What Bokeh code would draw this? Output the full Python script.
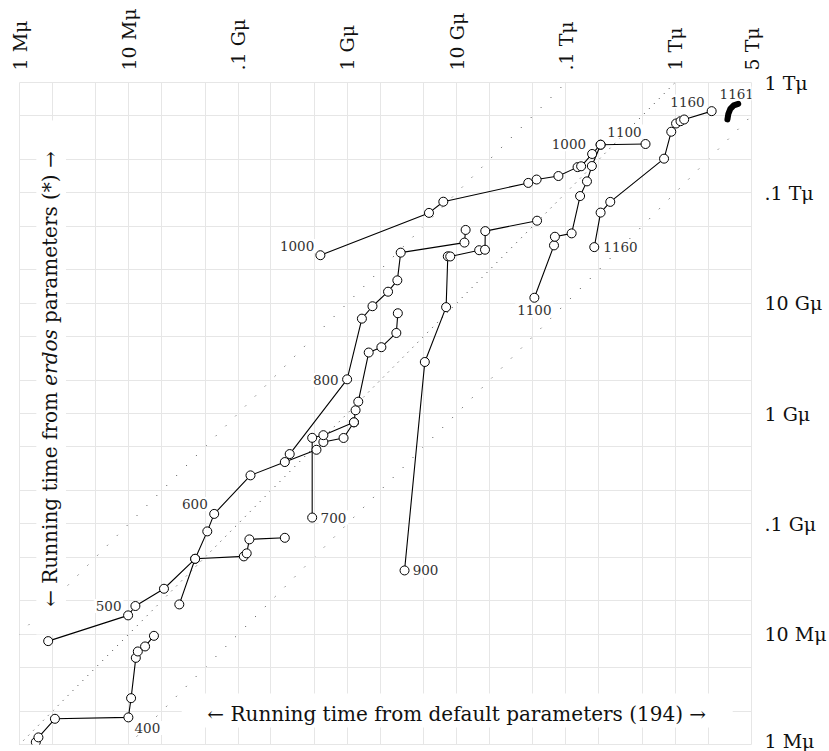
import math
from bokeh.plotting import figure
from bokeh.models import FixedTicker, Label, Range1d, BoxAnnotation
from bokeh.embed import file_html
from bokeh.resources import INLINE

# ---------------- axis ticks / labels ----------------
x_ticks = [1e6, 1e7, 1e8, 1e9, 1e10, 1e11, 1e12, 5e12]
x_tick_labels = ["1 Mμ", "10 Mμ", ".1 Gμ", "1 Gμ", "10 Gμ", ".1 Tμ", "1 Tμ", "5 Tμ"]
y_ticks = [1e6, 1e7, 1e8, 1e9, 1e10, 1e11, 1e12]
y_tick_labels = ["1 Mμ", "10 Mμ", ".1 Gμ", "1 Gμ", "10 Gμ", ".1 Tμ", "1 Tμ"]
grid_x = [1e6, 2e6, 5e6, 1e7, 2e7, 5e7, 1e8, 2e8, 5e8, 1e9, 2e9, 5e9,
          1e10, 2e10, 5e10, 1e11, 2e11, 5e11, 1e12, 2e12, 5e12]
grid_y = [1e6, 2e6, 5e6, 1e7, 2e7, 5e7, 1e8, 2e8, 5e8, 1e9, 2e9, 5e9,
          1e10, 2e10, 5e10, 1e11, 2e11, 5e11, 1e12]

# ---------------- data: (default params time, erdos params time) in mems ----------------
run_400_default = [1.41e6, 1.49e6, 2.11e6, 9.92e6, 1.05e7, 1.16e7, 1.21e7, 1.41e7, 1.70e7]
run_400_erdos   = [1.05e6, 1.16e6, 1.71e6, 1.76e6, 2.63e6, 6.10e6, 6.97e6, 7.74e6, 9.66e6]

run_500_default = [1.83e6, 9.86e6, 1.15e7, 2.10e7, 4.05e7, 1.13e8, 1.20e8, 1.27e8, 2.68e8]
run_500_erdos   = [8.65e6, 1.48e7, 1.80e7, 2.58e7, 4.82e7, 5.07e7, 5.40e7, 7.23e7, 7.47e7]

run_600_default = [2.90e7, 4.05e7, 5.23e7, 6.05e7, 1.30e8, 2.68e8, 5.22e8, 6.04e8, 9.24e8,
                   1.15e9, 1.19e9, 1.26e9, 1.57e9, 2.05e9, 2.81e9, 2.90e9]
run_600_erdos   = [1.86e7, 4.82e7, 8.54e7, 1.23e8, 2.75e8, 3.63e8, 4.69e8, 5.51e8, 6.00e8,
                   8.32e8, 1.07e9, 1.28e9, 3.57e9, 3.99e9, 5.37e9, 8.10e9]

run_700_default = [4.77e8, 4.77e8, 6.04e8, 1.15e9]
run_700_erdos   = [1.14e8, 6.02e8, 6.36e8, 8.32e8]

run_800_default = [2.97e8, 9.96e8, 1.36e9, 1.70e9, 2.36e9, 2.87e9, 3.08e9, 1.18e10, 1.21e10]
run_800_erdos   = [4.29e8, 2.04e9, 7.24e9, 9.38e9, 1.27e10, 1.61e10, 2.87e10, 3.54e10, 4.61e10]

run_900_default = [3.34e9, 5.12e9, 8.02e9, 8.31e9, 8.75e9, 1.61e10, 1.82e10, 1.83e10, 5.45e10]
run_900_erdos   = [3.78e7, 2.93e9, 9.20e9, 2.66e10, 2.65e10, 3.02e10, 3.05e10, 4.50e10, 5.59e10]

run_1000_default = [5.67e8, 5.59e9, 7.56e9, 4.53e10, 5.40e10, 8.55e10, 1.28e11, 1.38e11, 1.74e11, 2.08e11]
run_1000_erdos   = [2.72e10, 6.58e10, 8.31e10, 1.23e11, 1.32e11, 1.42e11, 1.71e11, 1.74e11, 2.25e11, 2.73e11]

run_1100_default = [5.15e10, 7.79e10, 7.94e10, 1.13e11, 1.35e11, 1.56e11, 1.73e11, 2.08e11, 5.36e11]
run_1100_erdos   = [1.12e10, 3.34e10, 4.00e10, 4.29e10, 9.35e10, 1.27e11, 1.75e11, 2.73e11, 2.77e11]

run_1160_default = [1.82e11, 2.08e11, 2.55e11, 7.92e11, 9.22e11, 1.02e12, 1.12e12, 1.21e12, 2.16e12]
run_1160_erdos   = [3.22e10, 6.62e10, 8.28e10, 2.04e11, 3.58e11, 4.25e11, 4.46e11, 4.62e11, 5.50e11]

run_1161_default = [3.01e12, 3.07e12, 3.20e12, 3.44e12, 3.78e12]
run_1161_erdos   = [4.63e11, 5.20e11, 5.77e11, 6.21e11, 6.41e11]

runs = {
    "400": (run_400_default, run_400_erdos),
    "500": (run_500_default, run_500_erdos),
    "600": (run_600_default, run_600_erdos),
    "700": (run_700_default, run_700_erdos),
    "800": (run_800_default, run_800_erdos),
    "900": (run_900_default, run_900_erdos),
    "1000": (run_1000_default, run_1000_erdos),
    "1100": (run_1100_default, run_1100_erdos),
    "1160": (run_1160_default, run_1160_erdos),
}
blob_run = (run_1161_default, run_1161_erdos)

# point labels: (text, run, index of anchoring point)
point_labels = [("400", "400", 3), ("500", "500", 1), ("600", "600", 3), ("700", "700", 0),
                ("800", "800", 1), ("900", "900", 0), ("1000", "1000", 0), ("1000", "1000", 9),
                ("1100", "1100", 0), ("1100", "1100", 8), ("1160", "1160", 0), ("1160", "1160", 8),
                ("1161", "1161", 4)]
# screen offsets (dx right, dy up) of each point label
label_offsets = [(19, -10.5), (-19.5, 9.3), (-19.3, 10), (21.3, 0), (-21.3, -0.7), (21, 0),
                 (-23.3, 9.3), (-31.7, 0.5), (0, -12.7), (-21, 12.5), (26.2, 0), (-24.2, 9.6),
                 (-1.5, 10.3)]

diag_ratios = [10, 1, 0.1]

# ---------------- figure geometry ----------------
W, H = 829, 751
BL, BR, BT, BB = 19, 70, 82, 7
X0, X1 = 1e6, 5e12
Y0, Y1 = 1e6, 1e12
FW, FH = W - BL - BR, H - BT - BB

def at_x(page_px):
    f = (page_px - BL) / FW
    return 10 ** (math.log10(X0) + f * (math.log10(X1) - math.log10(X0)))

def at_y(page_py):
    f = (BT + FH - page_py) / FH
    return 10 ** (math.log10(Y0) + f * (math.log10(Y1) - math.log10(Y0)))

SERIF = "DejaVu Serif"

p = figure(width=W, height=H, x_axis_type="log", y_axis_type="log",
           x_range=Range1d(X0, X1), y_range=Range1d(Y0, Y1),
           x_axis_location="above", y_axis_location="right",
           toolbar_location=None, output_backend="svg",
           min_border_left=BL, min_border_right=BR, min_border_top=BT, min_border_bottom=BB)
p.background_fill_color = "white"
p.border_fill_color = "white"
p.outline_line_color = "#e6e6e6"

# grid
p.xgrid.ticker = FixedTicker(ticks=grid_x)
p.ygrid.ticker = FixedTicker(ticks=grid_y)
for g in (p.xgrid, p.ygrid):
    g.grid_line_color = "#e6e6e6"
    g.grid_line_width = 1
    g.minor_grid_line_color = None

# top axis
ax = p.xaxis[0]
ax.ticker = FixedTicker(ticks=x_ticks)
ax.major_label_overrides = {t: lab for t, lab in zip(x_ticks, x_tick_labels)}
ax.major_label_orientation = math.pi / 2
ax.major_label_standoff = 12

# right axis
ay = p.yaxis[0]
ay.ticker = FixedTicker(ticks=y_ticks)
ay.major_label_overrides = {t: lab for t, lab in zip(y_ticks, y_tick_labels)}
ay.major_label_orientation = "horizontal"
ay.major_label_standoff = 13

for a in (ax, ay):
    a.axis_line_color = None
    a.major_tick_line_color = None
    a.minor_tick_line_color = None
    a.major_tick_out = 0
    a.major_tick_in = 0
    a.major_label_text_font = SERIF
    a.major_label_text_font_size = "19px"
    a.major_label_text_color = "#111111"

# diagonal reference lines
for r in diag_ratios:
    xs = [1e5, 1e14]
    ys = [r * v for v in xs]
    p.line(xs, ys, line_color="#333333", line_width=1,
           line_dash="1 6" if r == 1 else "1 13", level="underlay")

# white boxes behind axis titles
p.add_layout(BoxAnnotation(left=at_x(183), right=at_x(740), bottom=at_y(727), top=at_y(693),
                           fill_color="white", fill_alpha=1, line_color=None, level="underlay"))
p.add_layout(BoxAnnotation(left=at_x(36), right=at_x(66), bottom=at_y(634), top=at_y(120),
                           fill_color="white", fill_alpha=1, line_color=None, level="underlay"))

# data lines, then markers
for key, (xs, ys) in runs.items():
    p.line(xs, ys, line_color="black", line_width=1.1)
p.line(blob_run[0], blob_run[1], line_color="black", line_width=6,
       line_cap="round", line_join="round")
for key, (xs, ys) in runs.items():
    p.scatter(xs, ys, size=9, marker="circle", fill_color="white",
              line_color="black", line_width=1)

# point labels
all_runs = dict(runs)
all_runs["1161"] = blob_run
for (txt, key, idx), (dx, dy) in zip(point_labels, label_offsets):
    xs, ys = all_runs[key]
    p.add_layout(Label(x=xs[idx], y=ys[idx], x_offset=dx, y_offset=dy, text=txt,
                       text_align="center", text_baseline="middle",
                       text_font=SERIF, text_font_size="13.5px", text_color="#333333",
                       background_fill_color="white", padding=2))

# axis titles
p.add_layout(Label(x=at_x(461), y=at_y(713), text="← Running time from default parameters (194) →",
                   text_align="center", text_baseline="middle",
                   text_font=SERIF, text_font_size="20px", text_color="#111111"))
vx, vy = at_x(50), at_y(357)
p.add_layout(Label(x=vx, y=vy, text="erdos", angle=math.pi / 2,
                   text_align="center", text_baseline="middle", text_font_style="italic",
                   text_font=SERIF, text_font_size="20px", text_color="#111111"))
p.add_layout(Label(x=vx, y=vy, y_offset=-34.5, text="← Running time from", angle=math.pi / 2,
                   text_align="right", text_baseline="middle",
                   text_font=SERIF, text_font_size="20px", text_color="#111111"))
p.add_layout(Label(x=vx, y=vy, y_offset=34.5, text="parameters (*) →", angle=math.pi / 2,
                   text_align="left", text_baseline="middle",
                   text_font=SERIF, text_font_size="20px", text_color="#111111"))

open("out.html", "w").write(file_html(p, INLINE))
